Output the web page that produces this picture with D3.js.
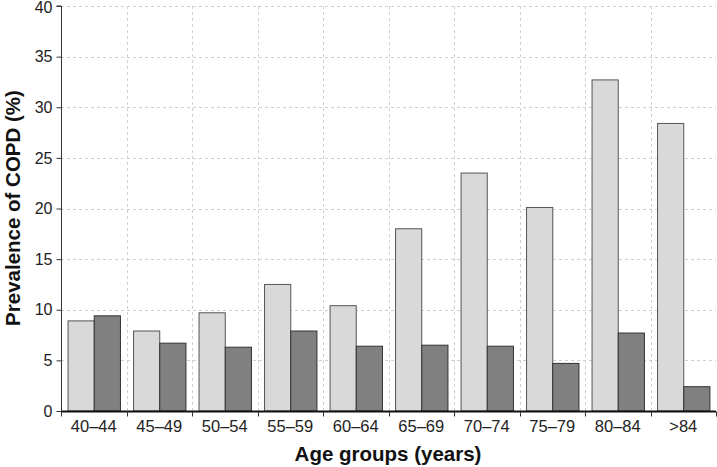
<!DOCTYPE html>
<html>
<head>
<meta charset="utf-8">
<script src="https://cdn.jsdelivr.net/npm/d3@7"></script>
<style>
  html, body { margin: 0; padding: 0; background: #fff; }
  svg { display: block; font-family: "Liberation Sans", Arial, sans-serif; }
</style>
</head>
<body>
<svg id="chart" width="717" height="467"></svg>
<script>
const categories = ["40–44", "45–49", "50–54", "55–59", "60–64", "65–69", "70–74", "75–79", "80–84", ">84"];
const seriesNames = ["Series A", "Series B"];
const seriesA = [8.9, 7.9, 9.7, 12.5, 10.4, 18.0, 23.5, 20.1, 32.7, 28.4];
const seriesB = [9.4, 6.7, 6.3, 7.9, 6.4, 6.5, 6.4, 4.7, 7.7, 2.4];
const yTicks = [0, 5, 10, 15, 20, 25, 30, 35, 40];
const colors = ["#d9d9d9", "#808080"];

const svg = d3.select("#chart");
const margin = { left: 61, right: 1, top: 6, bottom: 56 };
const W = 717, H = 467;
const x0 = margin.left, x1 = W - margin.right;
const yTop = margin.top, yBot = H - margin.bottom;

const x = d3.scaleBand().domain(categories).range([x0, x1]).paddingInner(0).paddingOuter(0);
const xs = d3.scaleBand().domain(seriesNames).range([0, x.bandwidth()]).paddingInner(0).paddingOuter(0.25);
const y = d3.scaleLinear().domain([0, 40]).range([yBot, yTop]);

// gridlines
const grid = svg.append("g").attr("stroke", "#d0d0d0").attr("stroke-dasharray", "3,3").attr("stroke-width", 1);
yTicks.filter(t => t > 0).forEach(t => {
  grid.append("line").attr("x1", x0).attr("x2", x1).attr("y1", Math.round(y(t)) + 0.5).attr("y2", Math.round(y(t)) + 0.5);
});
categories.forEach((c, i) => {
  if (i === 0) return;
  const xx = Math.round(x(c)) + 0.5;
  grid.append("line").attr("x1", xx).attr("x2", xx).attr("y1", yTop).attr("y2", yBot);
});

// bars
const data = categories.map((c, i) => ({ c, vals: [seriesA[i], seriesB[i]] }));
const groups = svg.append("g").selectAll("g").data(data).join("g")
  .attr("transform", d => `translate(${x(d.c)},0)`);
groups.selectAll("rect").data(d => d.vals.map((v, k) => ({ v, k })))
  .join("rect")
  .attr("x", d => xs(seriesNames[d.k]) + 0.5)
  .attr("width", xs.bandwidth())
  .attr("y", d => y(d.v))
  .attr("height", d => yBot - y(d.v))
  .attr("fill", d => colors[d.k])
  .attr("stroke", d => d.k === 0 ? "#555" : "#333")
  .attr("stroke-width", 1);

// axes
const yAxis = d3.axisLeft(y).tickValues(yTicks).tickSize(5).tickPadding(4);
const gy = svg.append("g").attr("transform", `translate(${x0 + 0.5},0)`).call(yAxis);
gy.select(".domain").attr("stroke", "#333").attr("d", `M-5,${yTop}H0V${yBot}`);
gy.selectAll(".tick line").attr("stroke", "#333");
gy.selectAll("text").attr("font-size", 16).attr("fill", "#222").attr("font-family", "Liberation Sans, Arial, sans-serif")
  .attr("dy", d => d === 40 ? "0.4em" : "0.32em");

const gx = svg.append("g").attr("transform", `translate(0,${yBot + 0.5})`);
gx.append("line").attr("x1", x0).attr("x2", x1).attr("stroke", "#111").attr("stroke-width", 2);
const boundaries = categories.map(c => x(c)).concat([x1]);
gx.selectAll("line.tk").data(boundaries).join("line").attr("class", "tk")
  .attr("x1", d => Math.round(d) + 0.5).attr("x2", d => Math.round(d) + 0.5)
  .attr("y1", 0).attr("y2", 5).attr("stroke", "#333");
gx.selectAll("text").data(categories).join("text")
  .attr("x", d => x(d) + x.bandwidth() / 2)
  .attr("y", 20.5)
  .attr("text-anchor", "middle")
  .attr("font-size", 16.5).attr("fill", "#222")
  .text(d => d);

// titles
svg.append("text").attr("x", 388).attr("y", 460.5)
  .attr("text-anchor", "middle").attr("font-size", 20.5).attr("font-weight", "bold").attr("fill", "#111")
  .text("Age groups (years)");
svg.append("text").attr("transform", `translate(19.5,${208}) rotate(-90)`)
  .attr("text-anchor", "middle").attr("font-size", 20.5).attr("font-weight", "bold").attr("fill", "#111")
  .text("Prevalence of COPD (%)");
</script>
</body>
</html>
